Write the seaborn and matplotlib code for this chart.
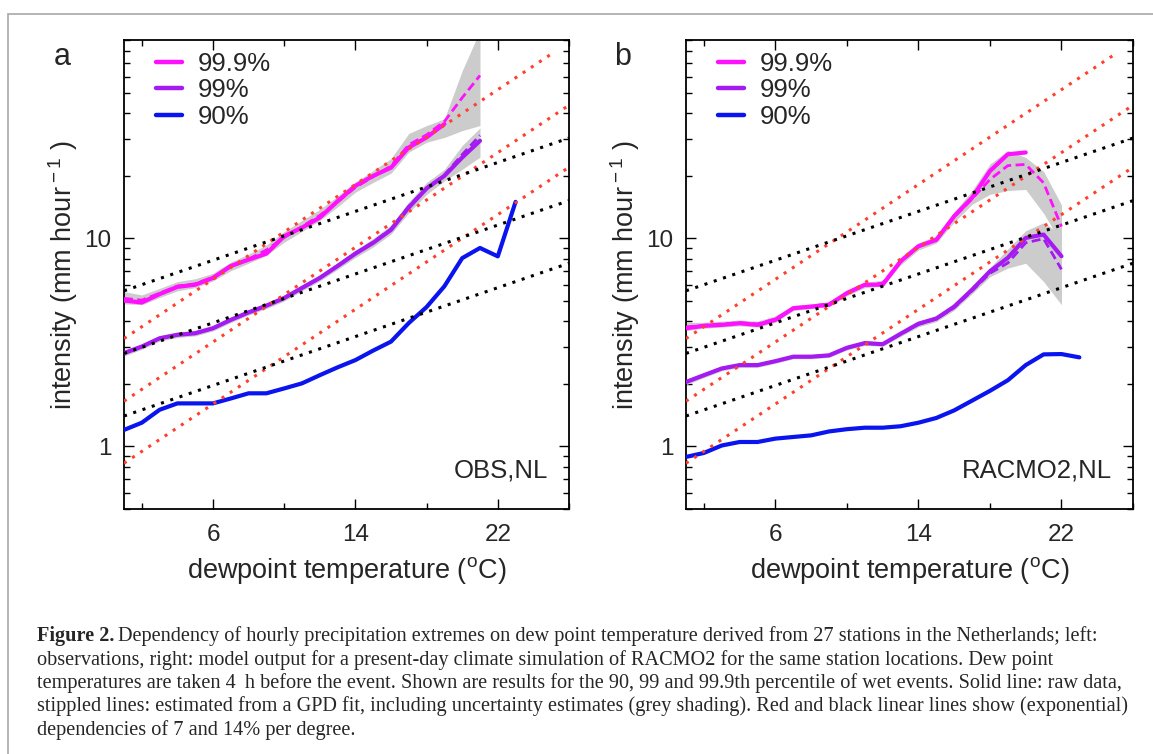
import numpy as np
import pandas as pd
import seaborn as sns
import matplotlib
matplotlib.use('Agg')
import matplotlib.pyplot as plt
import matplotlib.ticker as mticker
from matplotlib.lines import Line2D
from matplotlib.patches import Rectangle

# dew point temperature bins (deg C)
temps = list(range(1, 24))

# panel a: observations (mm/hour)
obs_90 = [1.2, 1.3, 1.5, 1.61, 1.61, 1.61, 1.70, 1.80, 1.80, 1.90, 2.01, 2.20,
          2.40, 2.60, 2.89, 3.19, 3.92, 4.68, 5.89, 8.04, 9.0, 8.2, 15.0]
obs_99 = [2.81, 3.02, 3.31, 3.44, 3.50, 3.70, 4.06, 4.41, 4.75, 5.17, 5.78,
          6.46, 7.37, 8.45, 9.53, 11.0, 14.1, 17.4, 20.0, 24.5, 29.5]
obs_99_fit = [2.81, 3.02, 3.31, 3.44, 3.50, 3.70, 4.06, 4.41, 4.75, 5.17, 5.78,
              6.46, 7.40, 8.50, 9.60, 11.1, 14.3, 17.5, 20.2, 25.3, 31.3]
obs_99_lo = [2.72, 2.93, 3.21, 3.34, 3.40, 3.59, 3.94, 4.28, 4.60, 5.00, 5.60,
             6.25, 7.10, 8.10, 9.10, 10.5, 13.3, 16.3, 18.9, 21.5, 24.6]
obs_99_hi = [2.90, 3.11, 3.41, 3.55, 3.61, 3.82, 4.19, 4.55, 4.90, 5.35, 5.98,
             6.68, 7.65, 8.80, 10.0, 11.6, 15.0, 18.6, 21.5, 28.0, 34.0]
obs_999 = [5.03, 4.92, 5.40, 5.85, 5.99, 6.46, 7.37, 7.91, 8.45, 10.26, 11.27,
           12.6, 15.1, 17.9, 20.0, 21.9, 27.4, 30.6, 35.5]
obs_999_fit = [5.15, 5.05, 5.45, 5.90, 6.05, 6.50, 7.30, 7.95, 8.80, 10.1, 11.4,
               12.9, 15.0, 17.6, 19.8, 22.3, 28.2, 31.5, 36.5, 47.5, 60.8]
obs_999_lo = [4.85, 4.80, 5.20, 5.60, 5.80, 6.25, 7.00, 7.60, 8.30, 9.60, 10.8,
              12.2, 14.2, 16.7, 18.6, 20.6, 26.0, 29.0, 30.6, 33.0, 34.9]
obs_999_hi = [5.55, 5.35, 5.75, 6.20, 6.40, 6.80, 7.70, 8.40, 9.30, 10.8, 12.2,
              13.8, 16.0, 18.7, 21.2, 24.2, 32.0, 34.9, 37.6, 64.0, 100.0]

# panel b: RACMO2 (mm/hour)
rac_90 = [0.89, 0.93, 1.01, 1.05, 1.05, 1.09, 1.11, 1.13, 1.18, 1.21, 1.23, 1.23,
          1.25, 1.30, 1.37, 1.49, 1.66, 1.85, 2.08, 2.46, 2.77, 2.78, 2.68]
rac_99 = [2.04, 2.20, 2.37, 2.46, 2.46, 2.57, 2.70, 2.70, 2.74, 2.98, 3.14, 3.10,
          3.48, 3.89, 4.12, 4.70, 5.67, 6.95, 8.07, 10.06, 10.44, 8.21]
rac_99_fit = [2.04, 2.20, 2.37, 2.46, 2.46, 2.57, 2.70, 2.70, 2.74, 2.97, 3.13, 3.10,
              3.46, 3.86, 4.10, 4.65, 5.60, 6.80, 7.62, 9.53, 9.97, 7.10]
rac_99_lo = [1.98, 2.14, 2.31, 2.40, 2.40, 2.51, 2.64, 2.64, 2.68, 2.91, 3.06, 3.03,
             3.38, 3.76, 3.98, 4.52, 5.42, 6.55, 7.20, 7.60, 6.20, 4.80]
rac_99_hi = [2.10, 2.26, 2.43, 2.52, 2.52, 2.63, 2.76, 2.76, 2.80, 3.05, 3.22, 3.18,
             3.58, 4.00, 4.25, 4.85, 5.90, 7.25, 8.90, 10.9, 11.9, 10.5]
rac_999 = [3.70, 3.80, 3.84, 3.91, 3.84, 4.06, 4.62, 4.70, 4.80, 5.46, 5.99, 5.99,
           7.77, 9.18, 9.84, 12.8, 15.7, 21.1, 25.4, 25.9]
rac_999_fit = [3.75, 3.82, 3.88, 3.93, 3.88, 4.10, 4.60, 4.72, 4.85, 5.45, 5.95, 6.10,
               7.70, 9.10, 9.90, 12.7, 15.5, 19.2, 22.4, 22.7, 18.5, 11.4]
rac_999_lo = [3.60, 3.70, 3.75, 3.80, 3.75, 3.95, 4.50, 4.60, 4.70, 5.30, 5.80, 5.90,
              7.45, 8.80, 9.50, 12.0, 14.6, 16.3, 17.0, 17.2, 13.2, 9.5]
rac_999_hi = [3.95, 3.95, 4.00, 4.05, 4.00, 4.25, 4.75, 4.85, 4.95, 5.65, 6.15, 6.30,
              8.00, 9.50, 10.3, 13.4, 17.0, 22.8, 26.5, 24.5, 21.0, 14.5]

# reference lines: 14% (red) and 7% (black) per degree, start/end values
red_x = [(1, 26), (1, 26), (1, 25)]
red_y = [(0.83, 22.0), (1.65, 43.7), (3.3, 77.0)]
black_x = [(1, 26), (1, 26), (1, 26)]
black_y = [(1.4, 7.6), (2.8, 15.2), (5.6, 30.4)]

labels = ['99.9%', '99%', '90%']
C_MAG, C_PUR, C_BLUE = '#ff10ff', '#a61af2', '#0a14ee'
C_RED, C_GREY = '#ff4030', '#cccccc'

sns.set_theme(style='ticks')
plt.rcParams['font.family'] = ['Liberation Sans', 'DejaVu Sans']
plt.rcParams['mathtext.fontset'] = 'custom'
plt.rcParams['mathtext.rm'] = 'Liberation Sans'

W, H = 1153, 754
fig = plt.figure(figsize=(W / 100, H / 100), dpi=100)
fig.patch.set_facecolor('white')


def draw_panel(ax, s90, s99, s99f, s99lo, s99hi, s999, s999f, s999lo, s999hi, tag):
    ax.set_yscale('log')
    t = np.array(temps)
    ax.fill_between(t[:len(s999lo)], s999lo, s999hi, color=C_GREY, lw=0, zorder=1)
    ax.fill_between(t[:len(s99lo)], s99lo, s99hi, color=C_GREY, lw=0, zorder=1)

    solid = [(s90, C_BLUE), (s99, C_PUR), (s999, C_MAG)]
    for vals, c in solid:
        df = pd.DataFrame({'T': temps[:len(vals)], 'I': vals})
        sns.lineplot(data=df, x='T', y='I', ax=ax, color=c, lw=3.0, zorder=3)
    for vals, c in [(s99f, C_PUR), (s999f, C_MAG)]:
        df = pd.DataFrame({'T': temps[:len(vals)], 'I': vals})
        sns.lineplot(data=df, x='T', y='I', ax=ax, color=c, lw=2.0,
                     linestyle=(0, (3.2, 1.6)), zorder=4)

    for xs, ys in zip(red_x, red_y):
        ax.plot(xs, ys, color=C_RED, lw=2.2, ls=(0, (1, 2.2)), zorder=5)
    for xs, ys in zip(black_x, black_y):
        ax.plot(xs, ys, color='black', lw=2.2, ls=(0, (1, 2.2)), zorder=5)

    ax.set_xlim(1, 26)
    ax.set_ylim(0.5, 90)
    ax.xaxis.set_major_locator(mticker.FixedLocator([6, 14, 22]))
    ax.xaxis.set_minor_locator(mticker.FixedLocator([2, 10, 18, 26]))
    ax.yaxis.set_major_locator(mticker.FixedLocator([1, 10]))
    ax.yaxis.set_major_formatter(mticker.FixedFormatter(['1', '10']))
    ax.yaxis.set_minor_locator(mticker.LogLocator(base=10, subs=np.arange(2, 10), numticks=20))
    ax.yaxis.set_minor_formatter(mticker.NullFormatter())
    ax.tick_params(which='both', direction='in', top=True, right=True,
                   width=1.0, color='black', labelsize=17.5)
    ax.tick_params(which='major', length=7)
    ax.tick_params(which='minor', length=4)
    ax.tick_params(axis='x', pad=11)
    ax.tick_params(axis='y', pad=9)
    for sp in ax.spines.values():
        sp.set_linewidth(1.3)
        sp.set_color('black')

    ax.set_xlabel(r'dewpoint temperature ($^{\rm o}$C)', fontsize=19.5, labelpad=6)
    ax.set_ylabel(r'intensity (mm hour$^{\rm -1}$ )', fontsize=19.5, labelpad=3)

    handles = [Line2D([], [], color=c, lw=3.2) for c in (C_MAG, C_PUR, C_BLUE)]
    ax.legend(handles, labels, loc='upper left', bbox_to_anchor=(0.072, 0.975),
              frameon=False, fontsize=18.5, handlelength=1.0, handletextpad=0.62,
              labelspacing=0.1, borderpad=0, borderaxespad=0)
    ax.text(0.953, 0.083, tag, transform=ax.transAxes, ha='right', va='center',
            fontsize=18.5)


ax_a = fig.add_axes([124 / W, 1 - 509 / H, 445 / W, 469 / H])
ax_b = fig.add_axes([686 / W, 1 - 509 / H, 447 / W, 469 / H])
draw_panel(ax_a, obs_90, obs_99, obs_99_fit, obs_99_lo, obs_99_hi,
           obs_999, obs_999_fit, obs_999_lo, obs_999_hi, 'OBS,NL')
draw_panel(ax_b, rac_90, rac_99, rac_99_fit, rac_99_lo, rac_99_hi,
           rac_999, rac_999_fit, rac_999_lo, rac_999_hi, 'RACMO2,NL')

fig.text(62.7 / W, 1 - 56.7 / H, 'a', ha='center', va='center', fontsize=22)
fig.text(623 / W, 1 - 56.7 / H, 'b', ha='center', va='center', fontsize=22)

# page frame
fig.add_artist(Rectangle((8 / W, -0.1), 2, 1.1 - 14 / H, transform=fig.transFigure,
                         fill=False, ec='#a8a8a8', lw=1.2))

# caption
cap_font = ['Liberation Serif', 'DejaVu Serif']
cap_size = 14.6
cap_lines = [
    'Dependency of hourly precipitation extremes on dew point temperature derived from 27 stations in the Netherlands; left:',
    'observations, right: model output for a present-day climate simulation of RACMO2 for the same station locations. Dew point',
    'temperatures are taken 4\u2009 h before the event. Shown are results for the 90, 99 and 99.9th percentile of wet events. Solid line: raw data,',
    'stippled lines: estimated from a GPD fit, including uncertainty estimates (grey shading). Red and black linear lines show (exponential)',
    'dependencies of 7 and 14% per degree.',
]
baselines = [641, 664.5, 688, 711.5, 735]
x0 = 37 / W
bold = fig.text(x0, 1 - baselines[0] / H, 'Figure 2.', fontsize=cap_size, family=cap_font,
                weight='bold', va='baseline', ha='left')
renderer = fig.canvas.get_renderer()
bb = bold.get_window_extent(renderer=renderer)
fig.text(bb.x1 / W + 4 / W, 1 - baselines[0] / H, cap_lines[0], fontsize=cap_size,
         family=cap_font, va='baseline', ha='left')
for line, b in zip(cap_lines[1:], baselines[1:]):
    fig.text(x0, 1 - b / H, line, fontsize=cap_size, family=cap_font,
             va='baseline', ha='left')

fig.savefig('out.png', dpi=100)
